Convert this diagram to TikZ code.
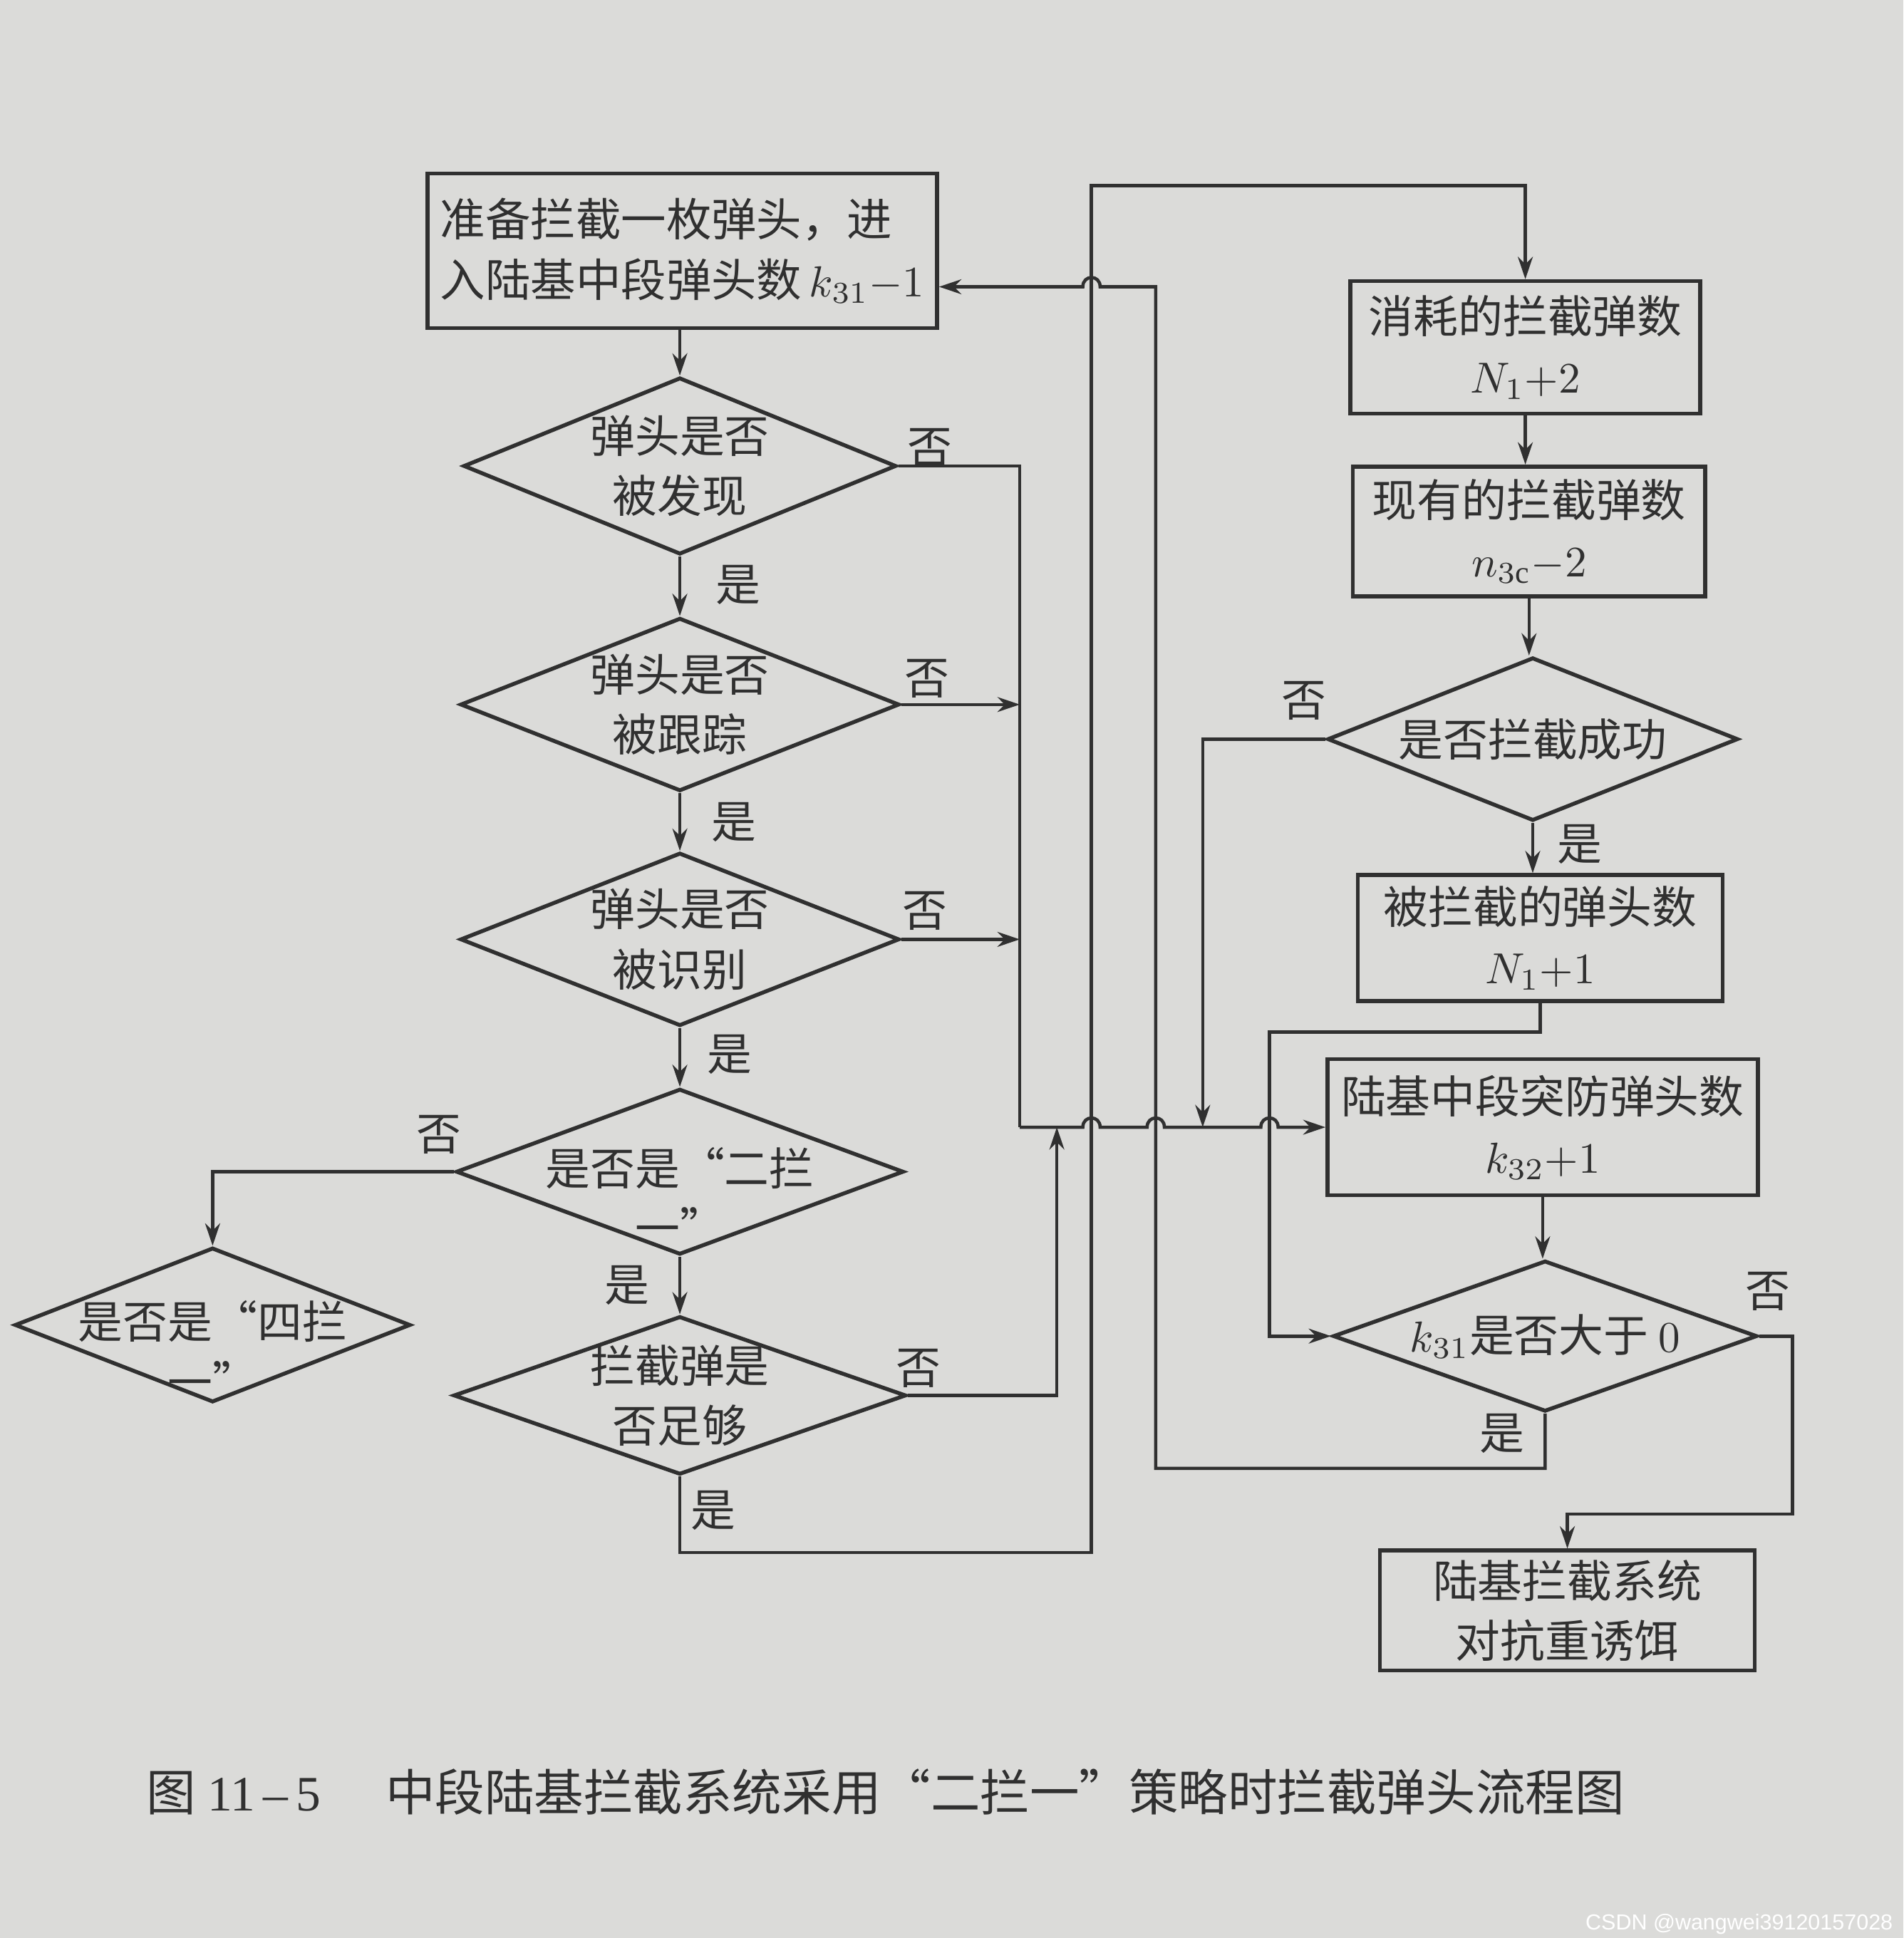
\documentclass[tikz,border=0pt]{standalone}
\usepackage{fontspec}
\setmainfont{Liberation Serif}
\setsansfont{Liberation Sans}
\newfontfamily\cjk{Noto Sans CJK SC}
\usetikzlibrary{shapes.geometric,arrows.meta,calc}
\definecolor{bg}{RGB}{219,219,217}
\definecolor{ink}{RGB}{48,48,48}
\begin{document}
\begin{tikzpicture}[x=0.01cm,y=-0.01cm,
  every node/.style={font=\cjk\fontsize{10.3pt}{13.8pt}\selectfont, text=ink},
  box/.style={draw=ink, line width=0.9pt, rectangle, inner sep=0pt},
  dia/.style={draw=ink, line width=0.9pt, diamond, inner sep=0pt},
  txt/.style={align=center, inner sep=0pt},
  line/.style={draw=ink, line width=0.75pt},
  arr/.style={line, -{Stealth[length=1.8mm,width=1.2mm]}},
  lab/.style={inner sep=0pt}]
\fill[bg] (0,0) rectangle (1540,1568);
\useasboundingbox (0,0) rectangle (1540,1568);

% ---------- left column ----------
\node[box, minimum width=4.12cm, minimum height=1.25cm] (A) at (552,203) {};
\node[align=left, inner sep=0pt, font=\cjk\fontsize{10.4pt}{13.9pt}\selectfont] (At) at (A) {准备拦截一枚弹头，进\\入陆基中段弹头数\,$k_{31}{-}1$};

\node[dia, minimum width=3.50cm, minimum height=1.43cm] (D1) at (550,377) {};
\node[txt] (D1t) at (D1) {弹头是否\\被发现};
\node[dia, minimum width=3.55cm, minimum height=1.40cm] (D2) at (550,570) {};
\node[txt] (D2t) at (D2) {弹头是否\\被跟踪};
\node[dia, minimum width=3.55cm, minimum height=1.40cm] (D3) at (550,760) {};
\node[txt] (D3t) at (D3) {弹头是否\\被识别};
\node[dia, minimum width=3.62cm, minimum height=1.34cm] (D4) at (550,948) {};
\node[txt, yshift=-0.2cm] (D4t) at (D4) {是否是“二拦\\一”};
\node[dia, minimum width=3.66cm, minimum height=1.28cm] (D5) at (550,1129) {};
\node[txt] (D5t) at (D5) {拦截弹是\\否足够};
\node[dia, minimum width=3.20cm, minimum height=1.25cm] (D6) at (172,1072) {};
\node[txt, yshift=-0.2cm] (D6t) at (D6) {是否是“四拦\\一”};

% ---------- right column ----------
\node[box, minimum width=2.83cm, minimum height=1.07cm] (B) at (1234,281) {};
\node[txt] (Bt) at (B) {消耗的拦截弹数\\$N_{1}{+}2$};
\node[box, minimum width=2.85cm, minimum height=1.05cm] (C) at (1237,430) {};
\node[txt] (Ct) at (C) {现有的拦截弹数\\$n_{3\mathrm{c}}{-}2$};
\node[dia, minimum width=3.32cm, minimum height=1.32cm] (D7) at (1240,598) {};
\node[txt] (D7t) at (D7) {是否拦截成功};
\node[box, minimum width=2.95cm, minimum height=1.02cm] (E) at (1246,759) {};
\node[txt] (Et) at (E) {被拦截的弹头数\\$N_{1}{+}1$};
\node[box, minimum width=3.48cm, minimum height=1.10cm] (F) at (1248,912) {};
\node[txt] (Ft) at (F) {陆基中段突防弹头数\\$k_{32}{+}1$};
\node[dia, minimum width=3.43cm, minimum height=1.22cm] (D8) at (1250,1081) {};
\node[txt] (D8t) at (D8) {$k_{31}$是否大于 $0$};
\node[box, minimum width=3.03cm, minimum height=0.97cm] (G) at (1268,1303) {};
\node[txt] (Gt) at (G) {陆基拦截系统\\对抗重诱饵};

% ---------- labels ----------
\node[lab] (n1) at (752,362) {否};
\node[lab] (n2) at (750,549) {否};
\node[lab] (n3) at (748,737) {否};
\node[lab] (n4) at (355,918) {否};
\node[lab] (n5) at (743,1107) {否};
\node[lab] (n7) at (1055,567) {否};
\node[lab] (n8) at (1430,1045) {否};
\node[lab] (y1) at (597,473) {是};
\node[lab] (y2) at (594,665) {是};
\node[lab] (y3) at (590,853) {是};
\node[lab] (y4) at (507,1040) {是};
\node[lab] (y5) at (577,1222) {是};
\node[lab] (y7) at (1278,683) {是};
\node[lab] (y8) at (1215,1160) {是};

% ---------- junction coordinates ----------
\coordinate (J0) at (825,912);
\coordinate (J1) at (855,912);
\coordinate (J2) at (973,912);
\coordinate (V1) at (883,1256);
\coordinate (V2) at (883,150);
\coordinate (W1) at (935,1188);
\coordinate (W2) at (935,232);
\coordinate (U1) at (1027,835);
\coordinate (X1) at (1450,1225);

% ---------- connectors: left column ----------
\draw[arr] (A.south -| D1.north) -- (D1.north);
\draw[arr] (D1.south) -- (D2.north);
\draw[arr] (D2.south) -- (D3.north);
\draw[arr] (D3.south) -- (D4.north);
\draw[arr] (D4.south) -- (D5.north);
\draw[arr] (D4.west) -| (D6.north);

\draw[line] (D1.east) -| (J0);
\draw[arr] (D2.east) -- (D2.east -| J0);
\draw[arr] (D3.east) -- (D3.east -| J0);
\draw[arr] (J0) -- (876,912) .. controls +(0,-10) and +(0,-10) .. (890,912)
  -- (928,912) .. controls +(0,-10) and +(0,-10) .. (942,912)
  -- (1020,912) .. controls +(0,-10) and +(0,-10) .. (1034,912) -- (F.west);
\draw[arr] (D5.east) -| (J1);
\draw[arr] (D5.south) |- (V1) -- (V2) -| (B.north);
\draw[arr] (D8.south) |- (W1) -- (W2) -- (890,232)
  .. controls +(0,-10) and +(0,-10) .. (876,232) -- (A.east |- W2);

% ---------- connectors: right column ----------
\draw[arr] (B.south) -- (B.south |- C.north);
\draw[arr] (C.south) -- (C.south |- D7.north);
\draw[arr] (D7.south) -- (D7.south |- E.north);
\draw[arr] (D7.west) -| (J2);
\draw[arr] (E.south) |- (U1) |- (D8.west);
\draw[arr] (F.south) -- (F.south |- D8.north);
\draw[arr] (D8.east) -| (X1) -| (G.north);

% ---------- caption ----------
\node[anchor=west, inner sep=0pt, font=\cjk\fontsize{11.4pt}{14pt}\selectfont] (cap) at (118,1450)
  {图 {\rmfamily 11\,–\,5}\hspace{1.3em}中段陆基拦截系统采用“二拦一”策略时拦截弹头流程图};
\node[anchor=east, inner sep=0pt, font=\sffamily\fontsize{5pt}{6pt}\selectfont, text=white] (wm) at (1532,1557) {CSDN @wangwei39120157028};
\end{tikzpicture}
\end{document}
